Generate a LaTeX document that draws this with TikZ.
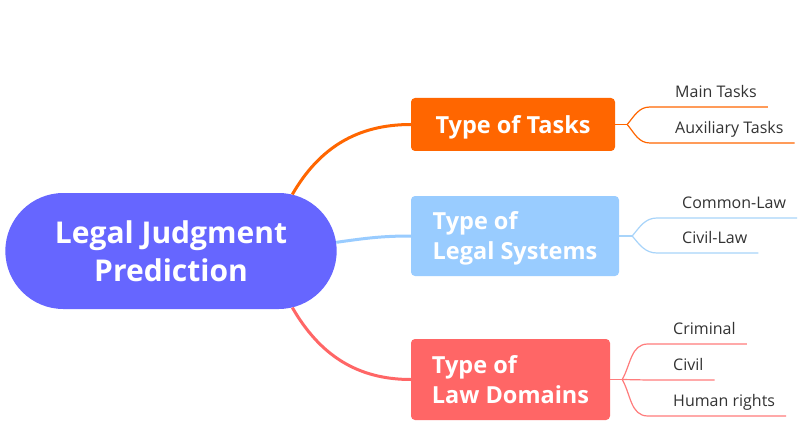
\documentclass[tikz,border=0pt]{standalone}
\usepackage{fontspec}
\setmainfont{Open Sans}
\usepackage{tikz}
\usetikzlibrary{shapes.misc}
\definecolor{rootblue}{HTML}{6666FF}
\definecolor{taskorange}{HTML}{FF6600}
\definecolor{sysblue}{HTML}{99CCFF}
\definecolor{sysline}{HTML}{A8D4FA}
\definecolor{domred}{HTML}{FF6666}
\definecolor{domline}{HTML}{FF7C7C}
\definecolor{leafgray}{HTML}{333333}
\tikzset{
    rootnode/.style={rounded rectangle, fill=rootblue, text=white, minimum width=338pt, minimum height=116pt, align=center, font=\fontsize{30}{38}\selectfont\bfseries},
    topic/.style={rectangle, rounded corners=4pt, text=white, inner sep=0pt, text depth=0pt, align=left, font=\fontsize{23.5}{30}\selectfont\bfseries},
    leaf/.style={anchor=south west, inner xsep=0pt, inner ysep=5pt, text height=11pt, text depth=4pt, text=leafgray, font=\fontsize{16}{19}\selectfont,
        execute at begin node=\hspace*{25pt}, execute at end node=\hspace*{11pt}},
    mainline/.style={line width=3pt},
    subline/.style={line width=1.2pt}
}

\begin{document}
\begin{tikzpicture}[x=1pt, y=1pt]
            \path[fill=white, use as bounding box] (0,0) rectangle (802,-422);

            % 1. Root and topics
            \node[rootnode] (root) at (171,-251) {Legal Judgment\\Prediction};
            \node[topic, fill=taskorange, minimum width=204pt, minimum height=53pt] (tasks) at (513,-124.5) {Type of Tasks};
            \node[topic, fill=sysblue, minimum width=208pt, minimum height=80pt] (systems) at (515,-236) {Type of\\Legal Systems};
            \node[topic, fill=domred, minimum width=199pt, minimum height=81pt] (domains) at (510.5,-379.5) {Type of\\Law Domains};
            \draw[mainline, taskorange] (root.25) to[out=60, in=180] (tasks.west);
            \draw[mainline, sysblue] (root.3) to[out=8, in=180] (systems.west);
            \draw[mainline, domred] (root.-25) to[out=-60, in=180] (domains.west);

            % 2. Type of Tasks
            \coordinate (tfork) at ([xshift=12pt]tasks.east);
            \node[leaf] (main) at (650,-107) {Main Tasks};
            \node[leaf] (aux) at (650,-143) {Auxiliary Tasks};
            \draw[subline, taskorange] (tasks.east) -- (tfork);
            \draw[subline, taskorange] (tfork) to[out=50, in=180] (main.south west) -- (main.south east);
            \draw[subline, taskorange] (tfork) to[out=-50, in=180] (aux.south west) -- (aux.south east);

            % 3. Type of Legal Systems
            \coordinate (sfork) at ([xshift=13pt]systems.east);
            \node[leaf] (common) at (657,-218) {Common-Law};
            \node[leaf] (civillaw) at (657,-253) {Civil-Law};
            \draw[subline, sysline] (systems.east) -- (sfork);
            \draw[subline, sysline] (sfork) to[out=50, in=180] (common.south west) -- (common.south east);
            \draw[subline, sysline] (sfork) to[out=-50, in=180] (civillaw.south west) -- (civillaw.south east);

            % 4. Type of Law Domains
            \coordinate (dfork) at ([xshift=12pt]domains.east);
            \node[leaf] (criminal) at (648,-344) {Criminal};
            \node[leaf] (civil) at (648,-380) {Civil};
            \node[leaf] (human) at (648,-416) {Human rights};
            \draw[subline, domline] (domains.east) -- (dfork);
            \draw[subline, domline] (dfork) to[out=60, in=180] (criminal.south west) -- (criminal.south east);
            \draw[subline, domline] (dfork) -- (civil.south west) -- (civil.south east);
            \draw[subline, domline] (dfork) to[out=-60, in=180] (human.south west) -- (human.south east);
        \end{tikzpicture}
\end{document}
